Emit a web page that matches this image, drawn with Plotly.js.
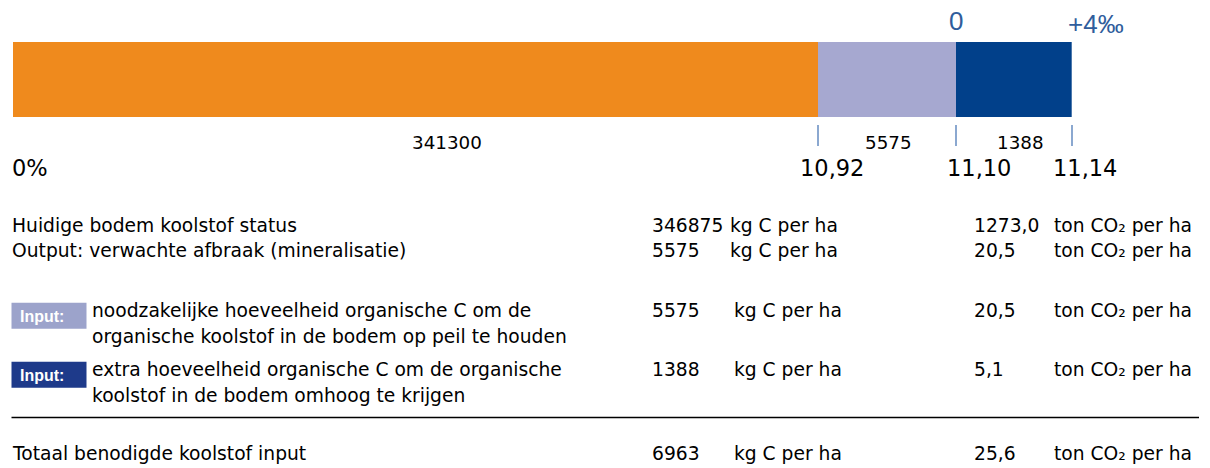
<!DOCTYPE html>
<html>
<head>
<meta charset="utf-8">
<script src="https://cdn.plot.ly/plotly-3.0.1.min.js"></script>
<style>
  html, body { margin: 0; padding: 0; background: #ffffff; }
  #chart { width: 1210px; height: 468px; }
</style>
</head>
<body>
<div id="chart"></div>
<script>
// ---------------- DATA ----------------
const segmentNames   = ['Huidige voorraad', 'Afbraak (mineralisatie)', 'Extra +4‰'];
const segmentValues  = [341300, 5575, 1388];
const boundaryLabels = ['0%', '10,92', '11,10', '11,14'];
const markerLabels   = ['0', '+4‰'];

const rowLabels = [
  'Huidige bodem koolstof status',
  'Output: verwachte afbraak (mineralisatie)',
  'noodzakelijke hoeveelheid organische C om de<br>organische koolstof in de bodem op peil te houden',
  'extra hoeveelheid organische C om de organische<br>koolstof in de bodem omhoog te krijgen',
  'Totaal benodigde koolstof input'
];
const rowKgC     = [346875, 5575, 5575, 1388, 6963];
const rowTonCO2  = [1273.0, 20.5, 20.5, 5.1, 25.6];
const rowBadges  = ['', '', 'Input:', 'Input:', ''];
const kgUnit     = 'kg C per ha';
const co2Unit    = 'ton CO\u2082 per ha';

// ---------------- STYLE / LAYOUT ----------------
// The original bar is schematic (not drawn to scale): relative drawn lengths of the segments.
const schematicLength = [6.96, 1.19, 1.0];
const segmentColors = ['#EF8A1D', '#A6A8D0', '#01408A'];
const badgeColors   = ['', '', '#9CA3CB', '#1E3A8A', ''];

const W = 1210, H = 468;
const px = x => x / W;
const py = y => 1 - y / H;
const TXT = 'DejaVu Sans, Verdana, sans-serif';
const ARIAL = 'Liberation Sans, Arial, sans-serif';

const fmtDec = v => v.toFixed(1).replace('.', ',');

// cumulative boundaries on the schematic axis
const bounds = [0];
schematicLength.forEach((l, i) => bounds.push(bounds[i] + l));
const total = bounds[bounds.length - 1];

const traces = segmentValues.map((v, i) => ({
  type: 'bar',
  orientation: 'h',
  name: segmentNames[i],
  x: [schematicLength[i]],
  y: [0],
  width: 1,
  marker: { color: segmentColors[i], line: { width: 0 } },
  customdata: [v],
  hoverinfo: 'skip',
  showlegend: false
}));

const annotations = [];
const shapes = [];
function ann(o) {
  annotations.push(Object.assign({
    showarrow: false, borderpad: 0, borderwidth: 0,
    xref: 'paper', yref: 'paper', yanchor: 'middle'
  }, o));
}

// value labels under the segments
const segLabelShift = [31.6, 1, 6.4];
segmentValues.forEach((v, i) => {
  ann({ xref: 'x', x: (bounds[i] + bounds[i + 1]) / 2, xshift: segLabelShift[i], xanchor: 'center',
        y: py(142.5), text: String(v), font: { family: TXT, size: 18.3, color: '#000' } });
});

// boundary labels (percentages)
const bLabelShift = [0, 13.4, 22.6, 13.3];
boundaryLabels.forEach((t, i) => {
  ann({ xref: 'x', x: bounds[i], xshift: bLabelShift[i] - (i === 0 ? 0.5 : 0),
        xanchor: i === 0 ? 'left' : 'center',
        y: py(168), text: t, font: { family: TXT, size: 22.5, color: '#000' } });
});

// marker labels above the blue segment
const markerY = [20.8, 24.2];
const markerShift = [0, 24];
markerLabels.forEach((t, i) => {
  ann({ xref: 'x', x: bounds[2 + i], xshift: markerShift[i], xanchor: 'center',
        y: py(markerY[i]), text: t, font: { family: ARIAL, size: 26, color: '#2F5D9C' } });
});

// table
const rowY = [225, 250, 310, 369, 453];
const lineStep = 26;
const labelX = [12, 12, 91.5, 91.5, 12];
const unitKgX = [730, 730, 734, 734, 734];
rowLabels.forEach((lab, r) => {
  lab.split('<br>').forEach((line, k) => {
    ann({ x: px(labelX[r]), xanchor: 'left', y: py(rowY[r] + k * lineStep),
          text: line, font: { family: TXT, size: 18.7, color: '#000' } });
  });
  ann({ x: px(652), xanchor: 'left', y: py(rowY[r]), text: String(rowKgC[r]),
        font: { family: TXT, size: 18.7, color: '#000' } });
  ann({ x: px(unitKgX[r]), xanchor: 'left', y: py(rowY[r]), text: kgUnit,
        font: { family: TXT, size: 18.7, color: '#000' } });
  ann({ x: px(973.5), xanchor: 'left', y: py(rowY[r]), text: fmtDec(rowTonCO2[r]),
        font: { family: TXT, size: 18.7, color: '#000' } });
  ann({ x: px(1053.5), xanchor: 'left', y: py(rowY[r]), text: co2Unit,
        font: { family: TXT, size: 18.7, color: '#000' } });
  if (rowBadges[r]) {
    const cy = rowY[r] + 5.8;
    shapes.push({ type: 'rect', xref: 'paper', yref: 'paper',
      x0: px(11.5), x1: px(86.5), y0: py(cy + 13), y1: py(cy - 13),
      fillcolor: badgeColors[r], line: { width: 0 } });
    ann({ x: px(42), xanchor: 'center', y: py(cy + 0.5), text: '<b>' + rowBadges[r] + '</b>',
          font: { family: ARIAL, size: 16, color: '#ffffff' } });
  }
});

// separator line above total
shapes.push({ type: 'line', xref: 'paper', yref: 'paper',
  x0: px(11.5), x1: px(1199), y0: py(417.5), y1: py(417.5),
  line: { color: '#000000', width: 1.3 } });

const layout = {
  width: W, height: H,
  margin: { l: 0, r: 0, t: 0, b: 0, pad: 0 },
  paper_bgcolor: '#ffffff', plot_bgcolor: 'rgba(0,0,0,0)',
  barmode: 'stack', bargap: 0,
  showlegend: false,
  xaxis: {
    domain: [px(12.5), px(1071.7)],
    range: [0, total],
    anchor: 'free', position: py(124),
    tickvals: bounds.slice(1),
    showticklabels: false,
    ticks: 'outside', ticklen: 21, tickwidth: 2, tickcolor: '#8BA8D0',
    showline: false, showgrid: false, zeroline: false, fixedrange: true
  },
  yaxis: {
    domain: [py(117), py(41.7)],
    range: [-0.5, 0.5],
    visible: false, showgrid: false, zeroline: false, fixedrange: true
  },
  annotations: annotations,
  shapes: shapes
};

Plotly.newPlot('chart', traces, layout, { displayModeBar: false, staticPlot: true });
</script>
</body>
</html>
